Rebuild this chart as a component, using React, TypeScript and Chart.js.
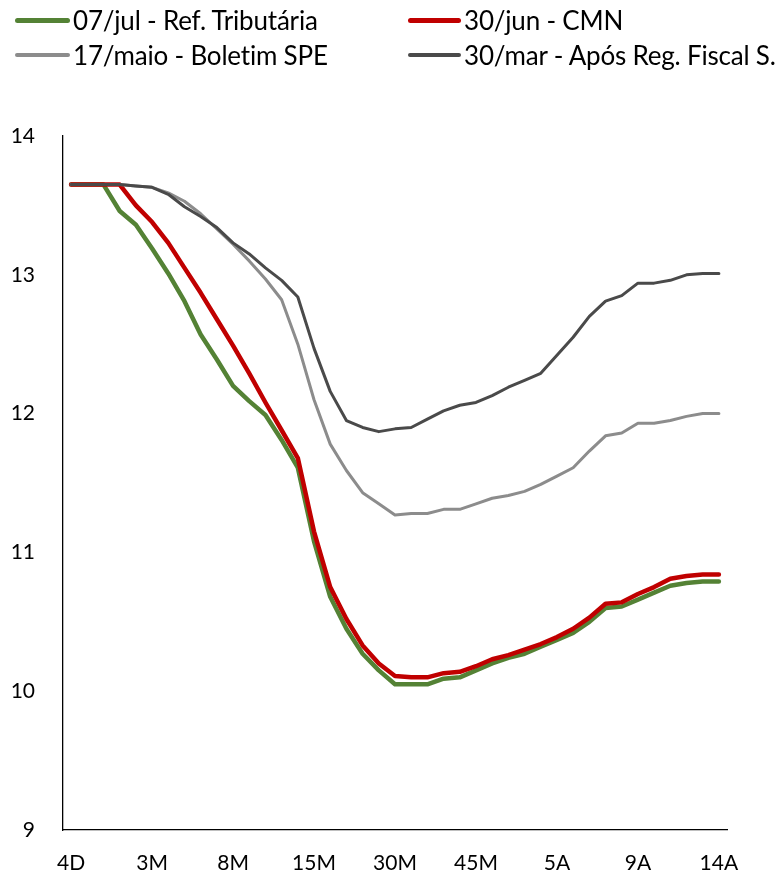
import React, { useEffect, useRef } from "react";
import { Chart, registerables } from "chart.js";

Chart.register(...registerables);

// Vertices of the curve (only every 5th is labelled on the axis)
const categories = [
  "4D", "2S", "1M", "6S", "2M", "3M", "4M", "5M", "6M", "7M",
  "8M", "9M", "10M", "12M", "13M", "15M", "18M", "21M", "24M", "27M",
  "30M", "33M", "36M", "39M", "42M", "45M", "48M", "51M", "54M", "57M",
  "5A", "6A", "7A", "8A", "8,5A", "9A", "10A", "11A", "12A", "13A", "14A",
];

const seriesNames = [
  "07/jul - Ref. Tributária",
  "30/jun - CMN",
  "17/maio - Boletim SPE",
  "30/mar - Após Reg. Fiscal S.",
];

const refTributaria = [
  13.65, 13.65, 13.65, 13.46, 13.36, 13.19, 13.01, 12.81, 12.57, 12.39,
  12.2, 12.09, 11.99, 11.81, 11.61, 11.08, 10.68, 10.45, 10.27, 10.15,
  10.05, 10.05, 10.05, 10.09, 10.1, 10.15, 10.2, 10.24, 10.27, 10.32,
  10.37, 10.42, 10.5, 10.6, 10.61, 10.66, 10.71, 10.76, 10.78, 10.79, 10.79,
];

const cmn = [
  13.65, 13.65, 13.65, 13.65, 13.5, 13.38, 13.23, 13.05, 12.87, 12.68,
  12.49, 12.29, 12.08, 11.88, 11.68, 11.15, 10.75, 10.52, 10.33, 10.2,
  10.11, 10.1, 10.1, 10.13, 10.14, 10.18, 10.23, 10.26, 10.3, 10.34,
  10.39, 10.45, 10.53, 10.63, 10.64, 10.7, 10.75, 10.81, 10.83, 10.84, 10.84,
];

const boletimSpe = [
  13.65, 13.65, 13.65, 13.65, 13.64, 13.63, 13.59, 13.53, 13.44, 13.33,
  13.22, 13.1, 12.97, 12.82, 12.5, 12.1, 11.78, 11.59, 11.43, 11.35,
  11.27, 11.28, 11.28, 11.31, 11.31, 11.35, 11.39, 11.41, 11.44, 11.49,
  11.55, 11.61, 11.73, 11.84, 11.86, 11.93, 11.93, 11.95, 11.98, 12.0, 12.0,
];

const regFiscal = [
  13.65, 13.65, 13.65, 13.65, 13.64, 13.63, 13.58, 13.49, 13.42, 13.34,
  13.23, 13.15, 13.05, 12.96, 12.84, 12.47, 12.16, 11.95, 11.9, 11.87,
  11.89, 11.9, 11.96, 12.02, 12.06, 12.08, 12.13, 12.19, 12.24, 12.29,
  12.42, 12.55, 12.7, 12.81, 12.85, 12.94, 12.94, 12.96, 13.0, 13.01, 13.01,
];

const colors = ["#548235", "#C00000", "#8C8C8C", "#4A4A4A"];
const widths = [4.5, 4.5, 3, 3];

const FONT = "Lato, 'Open Sans', sans-serif";

export default function App() {
  const canvasRef = useRef<HTMLCanvasElement | null>(null);

  useEffect(() => {
    const canvas = canvasRef.current;
    if (!canvas) return;
    const allData = [refTributaria, cmn, boletimSpe, regFiscal];
    const chart = new Chart(canvas, {
      type: "line",
      data: {
        labels: categories,
        datasets: allData.map((d, i) => ({
          label: seriesNames[i],
          data: d,
          borderColor: colors[i],
          backgroundColor: colors[i],
          borderWidth: widths[i],
          pointRadius: 0,
          tension: 0,
          fill: false,
          order: 4 - i,
          borderCapStyle: "round" as const,
          borderJoinStyle: "round" as const,
        })),
      },
      options: {
        animation: false,
        responsive: false,
        maintainAspectRatio: false,
        devicePixelRatio: 1,
        layout: { padding: { top: 136, right: 51, left: 0, bottom: 0 } },
        plugins: {
          legend: { display: false },
          tooltip: { enabled: false },
        },
        scales: {
          x: {
            type: "category",
            offset: true,
            grid: { display: false, drawTicks: false },
            border: { display: true, color: "#000", width: 1.3 },
            ticks: {
              autoSkip: false,
              maxRotation: 0,
              minRotation: 0,
              padding: 21,
              color: "#000",
              font: { family: FONT, size: 21 },
              callback: (_v: any, i: number) => (i % 5 === 0 ? categories[i] : ""),
            },
            afterFit: (s: any) => {
              s.height = 46;
            },
          },
          y: {
            min: 9,
            max: 14,
            grid: { display: false, drawTicks: false },
            border: { display: true, color: "#000", width: 1.3 },
            ticks: {
              stepSize: 1,
              padding: 28,
              color: "#000",
              font: { family: FONT, size: 21 },
            },
            afterFit: (s: any) => {
              s.width = 63;
            },
          },
        },
      },
    });
    return () => chart.destroy();
  }, []);

  const legendItems = [
    { left: 15, top: 20, sw: 55 },
    { left: 408, top: 20, sw: 53 },
    { left: 15, top: 55, sw: 55 },
    { left: 408, top: 55, sw: 53 },
  ];

  return (
    <div
      style={{
        position: "absolute",
        left: 0,
        top: 0,
        width: 778,
        height: 876,
        background: "#fff",
        overflow: "hidden",
      }}
    >
      <canvas
        ref={canvasRef}
        width={778}
        height={876}
        style={{ position: "absolute", left: 0, top: 0, width: 778, height: 876, display: "block" }}
      />
      {legendItems.map((it, i) => (
        <div
          key={i}
          style={{
            position: "absolute",
            left: it.left,
            top: it.top - 17,
            height: 34,
            display: "flex",
            alignItems: "center",
            whiteSpace: "nowrap",
            fontFamily: FONT,
            fontSize: 26,
            letterSpacing: -0.2,
            color: "#000",
          }}
        >
          <span
            style={{
              display: "inline-block",
              width: it.sw,
              height: i < 2 ? 5 : 4,
              borderRadius: 3,
              background: colors[i],
              marginRight: 3,
            }}
          />
          <span>{seriesNames[i]}</span>
        </div>
      ))}
    </div>
  );
}
